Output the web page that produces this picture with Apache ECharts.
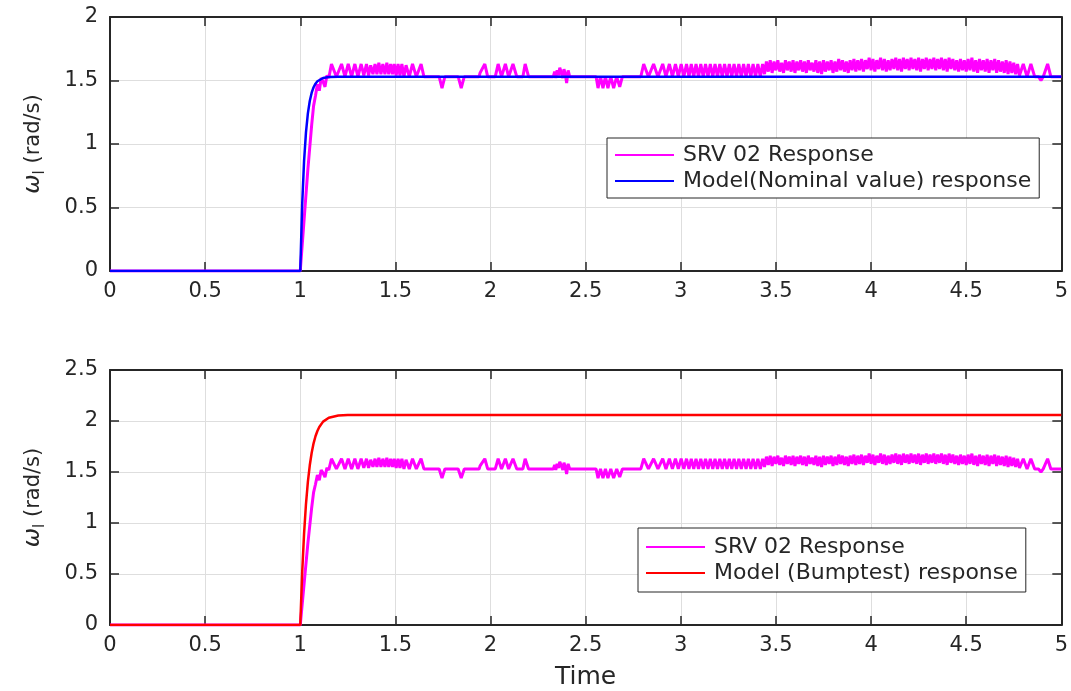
<!DOCTYPE html>
<html>
<head>
<meta charset="utf-8">
<script src="https://cdn.jsdelivr.net/npm/echarts@6/dist/echarts.min.js"></script>
<style>
  html, body { margin: 0; padding: 0; background: #fff; }
  #chart { width: 1071px; height: 691px; }
</style>
</head>
<body>
<div id="chart"></div>
<script>
// ---- Measured servo speed (same record in both panels), [time s, speed rad/s] ----
const srvRise = [
  [0, 0], [1.0, 0], [1.02, 0.40], [1.04, 0.80], [1.06, 1.15], [1.07, 1.30], [1.08, 1.38],
  [1.09, 1.47], [1.10, 1.42], [1.11, 1.52], [1.12, 1.49], [1.13, 1.45], [1.14, 1.54], [1.15, 1.52]
];
const srvBurst1 = [
  [1.164, 1.63], [1.19, 1.53], [1.217, 1.63], [1.235, 1.53], [1.252, 1.63], [1.27, 1.53],
  [1.287, 1.63], [1.303, 1.53], [1.32, 1.63], [1.334, 1.54], [1.348, 1.63], [1.359, 1.54],
  [1.37, 1.62], [1.382, 1.55], [1.393, 1.63], [1.403, 1.55], [1.413, 1.64], [1.424, 1.55],
  [1.434, 1.63], [1.445, 1.55], [1.455, 1.64], [1.465, 1.55], [1.475, 1.63], [1.485, 1.55],
  [1.494, 1.63], [1.504, 1.54], [1.514, 1.63], [1.524, 1.54], [1.534, 1.63], [1.545, 1.53],
  [1.556, 1.62], [1.573, 1.53], [1.59, 1.63], [1.61, 1.53], [1.635, 1.63], [1.65, 1.53]
];
const srvDips1 = [
  [1.73, 1.53], [1.745, 1.44], [1.76, 1.53], [1.83, 1.53], [1.846, 1.44], [1.862, 1.53],
  [1.94, 1.53], [1.945, 1.56], [1.955, 1.55], [1.97, 1.63], [1.985, 1.53], [2.025, 1.53],
  [2.04, 1.63], [2.058, 1.53], [2.078, 1.63], [2.095, 1.53], [2.118, 1.63], [2.138, 1.53],
  [2.17, 1.53], [2.182, 1.63], [2.2, 1.53]
];
const srvJitter = [
  [2.33, 1.53], [2.337, 1.57], [2.343, 1.52], [2.35, 1.58], [2.357, 1.54], [2.364, 1.60],
  [2.372, 1.61], [2.38, 1.52], [2.386, 1.59], [2.393, 1.55], [2.40, 1.48], [2.408, 1.58],
  [2.416, 1.53]
];
const srvDips2 = [
  [2.555, 1.53], [2.565, 1.44], [2.578, 1.53], [2.591, 1.44], [2.604, 1.53], [2.617, 1.44],
  [2.632, 1.53], [2.647, 1.44], [2.663, 1.53], [2.679, 1.45], [2.693, 1.53]
];
const srvBurst2 = [
  [2.79, 1.53], [2.805, 1.63], [2.83, 1.53], [2.857, 1.63], [2.88, 1.53], [2.905, 1.63],
  [2.922, 1.53], [2.94, 1.63], [2.956, 1.53], [2.972, 1.63], [2.987, 1.53], [3.002, 1.63],
  [3.016, 1.53], [3.03, 1.63], [3.043, 1.53], [3.055, 1.63], [3.068, 1.53], [3.08, 1.63],
  [3.093, 1.53], [3.105, 1.63], [3.118, 1.53], [3.13, 1.63], [3.143, 1.53], [3.155, 1.63],
  [3.168, 1.53], [3.18, 1.63], [3.193, 1.53], [3.205, 1.63], [3.218, 1.53], [3.23, 1.63],
  [3.243, 1.53], [3.255, 1.63], [3.268, 1.53], [3.28, 1.63], [3.293, 1.53], [3.305, 1.63],
  [3.318, 1.53], [3.33, 1.63], [3.343, 1.53], [3.355, 1.63], [3.368, 1.53], [3.38, 1.63],
  [3.393, 1.53], [3.405, 1.63], [3.418, 1.53], [3.43, 1.63]
];
// fast chatter between 3.44 s and 4.77 s, one reading every 10 ms
const denseStart = 3.44;
const denseStep = 0.01;
const srvDenseVals = [
  1.55, 1.65, 1.57, 1.66, 1.56, 1.65, 1.58, 1.66, 1.57, 1.64,
  1.56, 1.66, 1.58, 1.65, 1.57, 1.66, 1.56, 1.65, 1.58, 1.66,
  1.57, 1.65, 1.56, 1.66, 1.58, 1.64, 1.57, 1.66, 1.56, 1.65,
  1.55, 1.66, 1.57, 1.65, 1.58, 1.66, 1.56, 1.65, 1.57, 1.67,
  1.58, 1.66, 1.57, 1.65, 1.56, 1.66, 1.58, 1.67, 1.57, 1.66,
  1.58, 1.67, 1.57, 1.66, 1.59, 1.68, 1.58, 1.67, 1.57, 1.66,
  1.59, 1.68, 1.58, 1.67, 1.57, 1.66, 1.58, 1.67, 1.59, 1.68,
  1.58, 1.67, 1.57, 1.68, 1.59, 1.67, 1.58, 1.68, 1.59, 1.67,
  1.58, 1.68, 1.57, 1.67, 1.59, 1.68, 1.58, 1.67, 1.59, 1.68,
  1.58, 1.67, 1.59, 1.68, 1.58, 1.67, 1.57, 1.68, 1.59, 1.67,
  1.58, 1.66, 1.57, 1.67, 1.58, 1.66, 1.57, 1.67, 1.58, 1.68,
  1.57, 1.66, 1.56, 1.67, 1.58, 1.66, 1.57, 1.67, 1.56, 1.66,
  1.58, 1.67, 1.56, 1.66, 1.57, 1.65, 1.56, 1.66, 1.55, 1.65,
  1.56, 1.64, 1.55, 1.63
];
const srvTail = [
  [4.78, 1.54], [4.80, 1.63], [4.82, 1.53], [4.84, 1.63], [4.86, 1.53], [4.88, 1.53],
  [4.893, 1.50], [4.905, 1.53], [4.928, 1.63], [4.945, 1.53], [5.0, 1.53]
];

// ---- Model step responses ----
const modelNominal = [
  [0, 0], [1.0, 0], [1.01, 0.522], [1.02, 0.865], [1.03, 1.092], [1.04, 1.241], [1.05, 1.339],
  [1.06, 1.404], [1.07, 1.447], [1.08, 1.475], [1.09, 1.494], [1.10, 1.506], [1.12, 1.520],
  [1.15, 1.527], [1.2, 1.530], [5.0, 1.530]
];
const modelBumptest = [
  [0, 0], [1.0, 0], [1.01, 0.511], [1.02, 0.896], [1.03, 1.186], [1.04, 1.403], [1.05, 1.566],
  [1.06, 1.689], [1.07, 1.781], [1.08, 1.851], [1.09, 1.902], [1.10, 1.941], [1.12, 1.994],
  [1.15, 2.032], [1.2, 2.053], [1.25, 2.058], [1.3, 2.06], [5.0, 2.06]
];

const nameSrv = 'SRV 02 Response';
const nameNominal = 'Model(Nominal value) response';
const nameBump = 'Model (Bumptest) response';

const srvDense = srvDenseVals.map((v, i) => [+(denseStart + i * denseStep).toFixed(3), v]);
const srvData = [].concat(srvRise, srvBurst1, srvDips1, srvJitter, srvDips2, srvBurst2, srvDense, srvTail);

const FONT = 'DejaVu Sans';
const INK = '#262626';

function xAxisFor(grid, pos, withLabels, name) {
  return {
    type: 'value', gridIndex: grid, position: pos, min: 0, max: 5, interval: 0.5,
    name: name || '', nameLocation: 'middle', nameGap: 40,
    nameTextStyle: { fontFamily: FONT, fontSize: 25, color: INK },
    axisLine: { show: true, onZero: false, lineStyle: { color: INK, width: 2 } },
    axisTick: { show: true, inside: true, length: 9, lineStyle: { color: INK, width: 1.5 } },
    axisLabel: { show: withLabels, fontFamily: FONT, fontSize: 21, color: INK, margin: 10 },
    splitLine: { show: withLabels, lineStyle: { color: '#dedede', width: 1 } }
  };
}
function yAxisFor(grid, pos, withLabels, max) {
  return {
    type: 'value', gridIndex: grid, position: pos, min: 0, max: max, interval: 0.5,
    name: withLabels ? '{w|ω}{s|l} (rad/s)' : '', nameLocation: 'middle', nameGap: 62,
    nameTextStyle: {
      fontFamily: FONT, fontSize: 21, color: INK,
      rich: {
        w: { fontFamily: FONT, fontStyle: 'italic', fontSize: 23, color: INK },
        s: { fontFamily: FONT, fontSize: 15, color: INK, padding: [14, 0, 0, 0] }
      }
    },
    axisLine: { show: true, onZero: false, lineStyle: { color: INK, width: 2 } },
    axisTick: { show: true, inside: true, length: 9, lineStyle: { color: INK, width: 1.5 } },
    axisLabel: { show: withLabels, fontFamily: FONT, fontSize: 21, color: INK, margin: 12 },
    splitLine: { show: withLabels, lineStyle: { color: '#dedede', width: 1 } }
  };
}
function lineSeries(name, data, color, width, xi, yi) {
  return {
    name: name, type: 'line', data: data, xAxisIndex: xi, yAxisIndex: yi,
    symbol: 'none', showSymbol: false, animation: false, sampling: null,
    lineStyle: { color: color, width: width }, itemStyle: { color: color }
  };
}
function legendFor(names, left, top, pad) {
  return {
    data: names.map(n => ({ name: n, icon: 'rect' })),
    left: left, top: top, orient: 'vertical',
    itemWidth: 59, itemHeight: 2, itemGap: 4,
    backgroundColor: '#fff', borderColor: INK, borderWidth: 1, borderRadius: 0,
    padding: pad, selectedMode: false,
    textStyle: { fontFamily: FONT, fontSize: 22, color: INK, lineHeight: 22, padding: [0, 0, 0, 4] }
  };
}

const chart = echarts.init(document.getElementById('chart'), null, { renderer: 'canvas' });
chart.setOption({
  backgroundColor: '#fff',
  animation: false,
  grid: [
    { left: 110, top: 17, width: 952, height: 254 },
    { left: 110, top: 370, width: 952, height: 255 }
  ],
  xAxis: [
    xAxisFor(0, 'bottom', true),
    xAxisFor(0, 'top', false),
    xAxisFor(1, 'bottom', true, 'Time'),
    xAxisFor(1, 'top', false)
  ],
  yAxis: [
    yAxisFor(0, 'left', true, 2),
    yAxisFor(0, 'right', false, 2),
    yAxisFor(1, 'left', true, 2.5),
    yAxisFor(1, 'right', false, 2.5)
  ],
  legend: [
    legendFor([nameSrv, nameNominal], 607, 138, [6, 8, 6, 8]),
    legendFor([nameSrv, nameBump], 638, 528, [8, 8, 8, 8])
  ],
  series: [
    lineSeries(nameSrv, srvData, '#ff00ff', 3, 0, 0),
    lineSeries(nameNominal, modelNominal, '#0000ff', 2.5, 0, 0),
    lineSeries(nameSrv, srvData, '#ff00ff', 3, 2, 2),
    lineSeries(nameBump, modelBumptest, '#ff0000', 2.5, 2, 2)
  ]
});
</script>
</body>
</html>
